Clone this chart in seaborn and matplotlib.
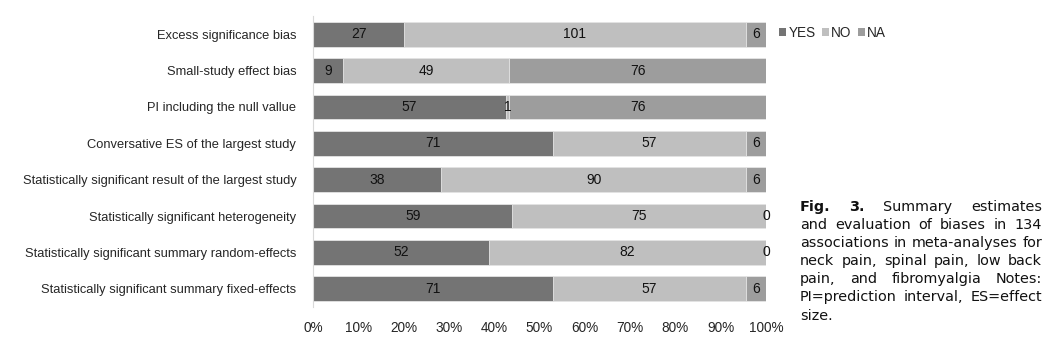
import matplotlib
matplotlib.use("Agg")
import matplotlib.pyplot as plt
import seaborn as sns
import pandas as pd
import numpy as np

categories = [
    "Excess significance bias",
    "Small-study effect bias",
    "PI including the null vallue",
    "Conversative ES of the largest study",
    "Statistically significant result of the largest study",
    "Statistically significant heterogeneity",
    "Statistically significant summary random-effects",
    "Statistically significant summary fixed-effects",
]
yes_vals = [27, 9, 57, 71, 38, 59, 52, 71]
no_vals = [101, 49, 1, 57, 90, 75, 82, 57]
na_vals = [6, 76, 76, 6, 6, 0, 0, 6]
series_names = ["YES", "NO", "NA"]
colors = {"YES": "#747474", "NO": "#bfbfbf", "NA": "#9d9d9d"}
x_ticks = [0, 10, 20, 30, 40, 50, 60, 70, 80, 90, 100]
caption_lines = [
    "Fig. 3. Summary estimates",
    "and evaluation of biases in 134",
    "associations in meta-analyses for",
    "neck pain, spinal pain, low back",
    "pain, and fibromyalgia Notes:",
    "PI=prediction interval, ES=effect",
    "size.",
]

df = pd.DataFrame({"category": categories, "YES": yes_vals, "NO": no_vals, "NA": na_vals})
df["total"] = df["YES"] + df["NO"] + df["NA"]
for s in series_names:
    df[s + "_pct"] = df[s] / df["total"] * 100
df["cum_YES"] = df["YES_pct"]
df["cum_NO"] = df["YES_pct"] + df["NO_pct"]
df["cum_NA"] = df["cum_NO"] + df["NA_pct"]

sns.set_style("white")
plt.rcParams["font.family"] = ["Liberation Sans", "DejaVu Sans"]

fig = plt.figure(figsize=(10.54, 3.38), dpi=100)
ax = fig.add_axes([313 / 1054, 1 - 307 / 338, (766 - 313) / 1054, (307 - 16) / 338])

for s in ["NA", "NO", "YES"]:
    sns.barplot(data=df, y="category", x="cum_" + s, color=colors[s], orient="h",
                width=0.68, edgecolor="#e6e6e6", linewidth=0.6, ax=ax, label=s,
                saturation=1)

# labels
for i, row in df.iterrows():
    start = 0
    for s in series_names:
        w = row[s + "_pct"]
        ax.text(start + w / 2, i, f"{row[s]}", ha="center", va="center",
                fontsize=10, color="#111111")
        start += w

ax.set_xlim(0, 100)
ax.set_xticks(x_ticks)
ax.set_xticklabels([f"{t}%" for t in x_ticks], fontsize=9.8)
ax.tick_params(axis="y", labelsize=9.3, length=0, pad=12)
ax.tick_params(axis="x", length=0, pad=10)
ax.set_xlabel("")
ax.set_ylabel("")
for sp in ["top", "right", "bottom"]:
    ax.spines[sp].set_visible(False)
ax.spines["left"].set_color("#d9d9d9")
ax.spines["left"].set_linewidth(0.8)

# legend
from matplotlib.patches import Patch
handles = [Patch(facecolor=colors[s], edgecolor="none") for s in series_names]
fig.legend(handles, series_names, loc="center left", bbox_to_anchor=(772 / 1054, 1 - 33 / 338),
           ncol=3, frameon=False, fontsize=9.8, handlelength=0.55, handleheight=0.55,
           handletextpad=0.15, columnspacing=0.45, borderpad=0)
if ax.get_legend() is not None:
    ax.get_legend().remove()

# justified caption
fig.canvas.draw()
renderer = fig.canvas.get_renderer()
x0, x1 = 800, 1042
W = x1 - x0
line_y = [207, 225, 243, 261, 279, 297, 316]
min_space = 5.0


def make_words(size):
    out = []
    for li, (line, ypx) in enumerate(zip(caption_lines, line_y)):
        words = line.split(" ")
        texts, widths = [], []
        for wi, w in enumerate(words):
            wt = "bold" if (li == 0 and wi < 2) else "normal"
            t = fig.text(0, 1 - ypx / 338, w, fontsize=size, fontweight=wt,
                         family="DejaVu Sans", va="center", ha="left", color="#111111")
            texts.append(t)
            widths.append(t.get_window_extent(renderer).width)
        out.append((texts, widths))
    return out


probe = make_words(10.0)
scale = 10.0
for li, (texts, widths) in enumerate(probe):
    if li < len(caption_lines) - 1:
        s = (W - min_space * (len(widths) - 1)) / sum(widths)
        scale = min(scale, s)
for texts, _ in probe:
    for t in texts:
        t.remove()
cap_size = min(11.0, 10.0 * scale)

lines = make_words(cap_size)
for li, (texts, widths) in enumerate(lines):
    last = li == len(lines) - 1
    space = 4.0
    if not last and len(widths) > 1:
        space = (W - sum(widths)) / (len(widths) - 1)
    x = x0
    for t, wdt in zip(texts, widths):
        t.set_x(x / 1054)
        x += wdt + space

fig.savefig("out.png", dpi=100)
